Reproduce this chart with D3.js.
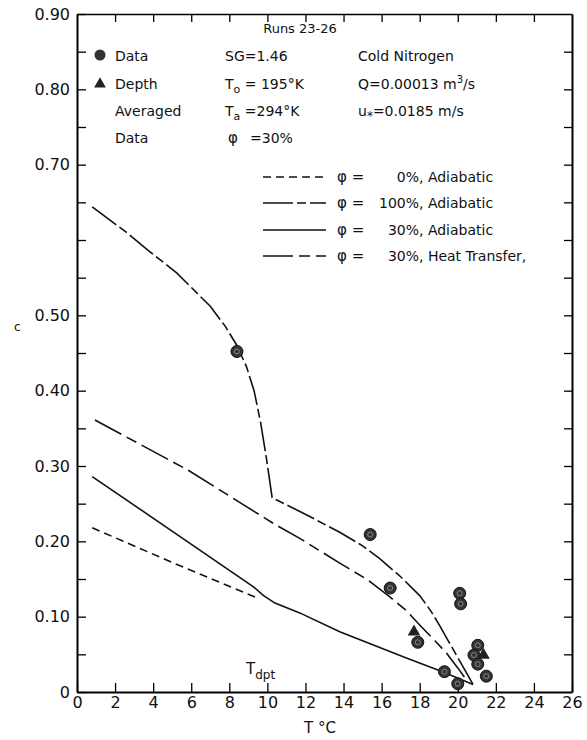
<!DOCTYPE html>
<html>
<head>
<meta charset="utf-8">
<script src="https://cdn.jsdelivr.net/npm/d3@7"></script>
<style>
  body { margin: 0; background: #fff; }
  svg { font-family: "DejaVu Sans", sans-serif; }
</style>
</head>
<body>
<svg width="587" height="740"></svg>
<script>
// values: [T (°C), c]
const xTicks = d3.range(0, 27, 2);
const yTicks = d3.range(0, 0.91, 0.05);
const yLabels = {0: '0', 0.1: '0.10', 0.2: '0.20', 0.3: '0.30', 0.4: '0.40',
                 0.5: '0.50', 0.7: '0.70', 0.8: '0.80', 0.9: '0.90'};

const phi0 = [[0.8, 0.218], [5.0, 0.172], [9.35, 0.126]];

const phi100 = [[0.8, 0.644], [2.6, 0.61], [3.8, 0.585], [5.25, 0.556], [7.0, 0.512],
    [7.8, 0.485], [8.4, 0.46], [8.9, 0.432], [9.3, 0.4], [9.65, 0.357], [9.95, 0.31],
    [10.25, 0.258], [12.07, 0.235], [13.8, 0.212], [15.0, 0.194], [15.9, 0.177],
    [17.0, 0.153], [18.0, 0.128], [18.6, 0.107], [19.05, 0.088], [19.5, 0.068],
    [19.95, 0.048], [20.4, 0.028], [20.8, 0.01]];

const phi30 = [[0.8, 0.286], [5.55, 0.204], [9.25, 0.14], [9.8, 0.128], [10.4, 0.118],
    [11.7, 0.105], [13.8, 0.08], [17.3, 0.045], [19.2, 0.027], [20.8, 0.01]];

const phi30heat = [[0.94, 0.361], [5.8, 0.295], [10.3, 0.224], [11.7, 0.204],
    [13.8, 0.171], [15.2, 0.15], [16.4, 0.127], [17.3, 0.108], [18.0, 0.089],
    [18.8, 0.068], [19.4, 0.052], [20.0, 0.032], [20.4, 0.018]];

const dataPts = [[8.4, 0.452], [15.4, 0.209], [16.45, 0.138], [17.9, 0.066],
    [20.1, 0.131], [20.15, 0.117], [19.3, 0.027], [20.0, 0.011], [21.05, 0.062],
    [20.85, 0.049], [21.05, 0.037], [21.5, 0.021]];

const depthPts = [[17.7, 0.08], [21.35, 0.049]];

const curves = [
    {data: phi0, dash: '8,5', pct: '0%', label: ', Adiabatic'},
    {data: phi100, dash: '30,4,9,4', pct: '100%', label: ', Adiabatic'},
    {data: phi30, dash: null, pct: '30%', label: ', Adiabatic'},
    {data: phi30heat, dash: '30,6,11,6', pct: '30%', label: ', Heat Transfer,'},
];

let svg = d3.select('svg');
const mLeft = 77, mTop = 14, mRight = 572, mBottom = 692;

const x = d3.scaleLinear().domain([0, 26]).range([mLeft, mRight]);
const y = d3.scaleLinear().domain([0, 0.9]).range([mBottom, mTop]);

const line = d3.line().x(d => x(d[0])).y(d => y(d[1]));

// axes, ticks pointing inward
svg.append('g')
    .attr('transform', `translate(0,${mBottom})`)
    .call(d3.axisBottom(x).tickValues(xTicks).tickSizeInner(-9).tickSizeOuter(0)
        .tickPadding(5).tickFormat(d3.format('d')))
    .call(g => g.select('.domain').attr('stroke-width', 2));

svg.append('g')
    .attr('transform', `translate(${mLeft},0)`)
    .call(d3.axisLeft(y).tickValues(yTicks).tickSizeInner(-9).tickSizeOuter(0)
        .tickPadding(7).tickFormat(d => yLabels[Math.round(d * 100) / 100] || ''))
    .call(g => g.select('.domain').attr('stroke-width', 2));

svg.append('g')
    .attr('transform', `translate(0,${mTop})`)
    .call(d3.axisTop(x).tickValues(xTicks.slice(1, -1)).tickSizeInner(-8).tickSizeOuter(0)
        .tickFormat(''))
    .call(g => g.select('.domain').attr('stroke-width', 1.5));

svg.append('g')
    .attr('transform', `translate(${mRight},0)`)
    .call(d3.axisRight(y).tickValues(yTicks.slice(1, -1)).tickSizeInner(-8).tickSizeOuter(0)
        .tickFormat(''))
    .call(g => g.select('.domain').attr('stroke-width', 2));

svg.selectAll('.tick line').attr('stroke-width', 1.3);
svg.selectAll('.tick text').attr('font-size', 16).attr('fill', '#111')
    .attr('font-family', '"DejaVu Sans", sans-serif');

// curves
svg.append('g').selectAll('path')
    .data(curves)
    .join('path')
    .attr('fill', 'none')
    .attr('stroke', '#111')
    .attr('stroke-width', 1.6)
    .attr('stroke-dasharray', d => d.dash)
    .attr('d', d => line(d.data));

// points
const dot = svg.append('g').selectAll('g')
    .data(dataPts)
    .join('g')
    .attr('transform', d => `translate(${x(d[0])},${y(d[1])})`);
dot.append('circle').attr('r', 6).attr('fill', '#333').attr('stroke', '#111');
dot.append('circle').attr('r', 2.5).attr('fill', 'none').attr('stroke', '#888').attr('stroke-width', 1);

svg.append('g').selectAll('path')
    .data(depthPts)
    .join('path')
    .attr('transform', d => `translate(${x(d[0])},${y(d[1])})`)
    .attr('d', d3.symbol(d3.symbolTriangle).size(70))
    .attr('fill', '#222');

// annotation block
const txt = svg.append('g').attr('font-size', 14).attr('fill', '#111');
const put = (tx, ty, s, opts = {}) => txt.append('text')
    .attr('x', tx).attr('y', ty).attr('text-anchor', opts.anchor || 'start')
    .attr('font-size', opts.size || 14).text(s);

put(300, 33, 'Runs 23-26', {anchor: 'middle', size: 13});

txt.append('circle').attr('cx', 100).attr('cy', 55).attr('r', 5.5).attr('fill', '#333');
txt.append('path').attr('transform', 'translate(100,84)')
    .attr('d', d3.symbol(d3.symbolTriangle).size(60)).attr('fill', '#222');
put(115, 61, 'Data');
put(115, 89, 'Depth');
put(115, 116, 'Averaged');
put(115, 143, 'Data');

put(225, 61, 'SG=1.46');
let t = put(225, 89, 'T');
t.append('tspan').attr('font-size', 11).attr('dy', 4).text('o');
t.append('tspan').attr('dy', -4).text(' = 195°K');
t = put(225, 116, 'T');
t.append('tspan').attr('font-size', 11).attr('dy', 4).text('a');
t.append('tspan').attr('dy', -4).text(' =294°K');
put(228, 143, 'φ', {size: 15});
put(250, 143, '=30%');

put(358, 61, 'Cold Nitrogen');
t = put(358, 89, 'Q=0.00013 m');
t.append('tspan').attr('font-size', 10).attr('dy', -6).text('3');
t.append('tspan').attr('dy', 6).text('/s');
t = put(358, 116, 'u');
t.append('tspan').attr('font-size', 12).attr('dy', 4).text('*');
t.append('tspan').attr('dy', -4).text('=0.0185 m/s');

// legend
const rows = [177, 203, 230, 256];
curves.forEach((c, i) => {
    txt.append('line').attr('x1', 263).attr('x2', 326)
        .attr('y1', rows[i]).attr('y2', rows[i])
        .attr('stroke', '#111').attr('stroke-width', 1.6)
        .attr('stroke-dasharray', c.dash);
    put(337, rows[i] + 5, 'φ =', {size: 15});
    put(419, rows[i] + 5, c.pct, {anchor: 'end'});
    put(419, rows[i] + 5, c.label);
});

// axis titles
put(14, 331, 'c', {size: 12});
put(320, 733, 'T °C', {anchor: 'middle', size: 15});
t = put(246, 674, 'T', {size: 15});
t.append('tspan').attr('font-size', 12).attr('dy', 5).text('dpt');
</script>
</body>
</html>
